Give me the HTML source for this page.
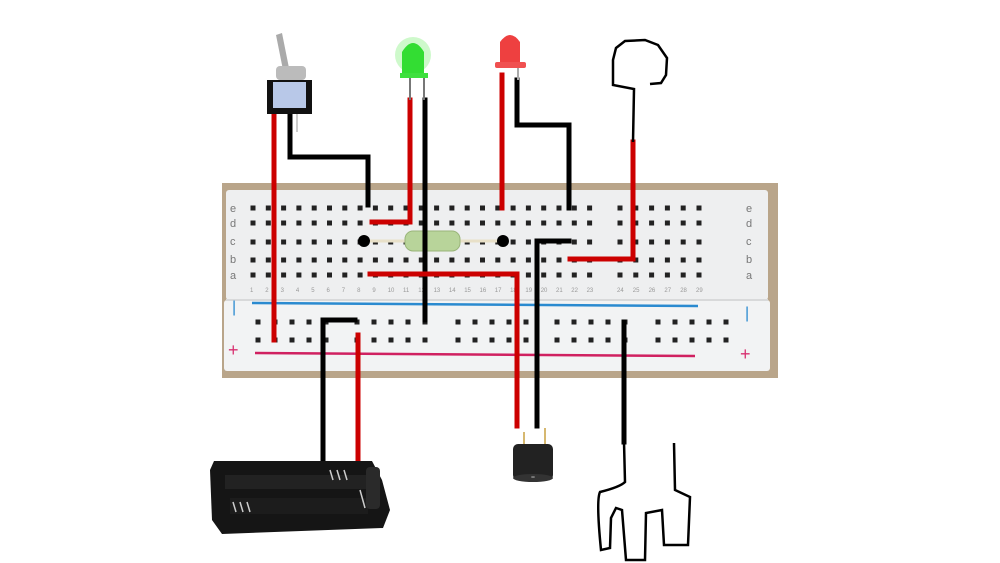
<!DOCTYPE html>
<html><head><meta charset="utf-8"><style>
html,body{margin:0;padding:0;background:#fff;width:1000px;height:563px;overflow:hidden}
svg{display:block}
text{font-family:"Liberation Sans",sans-serif}
</style></head><body>
<svg width="1000" height="563" viewBox="0 0 1000 563" xmlns="http://www.w3.org/2000/svg">
<!-- breadboard background (wood) -->
<rect x="222" y="183" width="556" height="195" fill="#b9a58a"/>
<rect x="226" y="190" width="542" height="110" rx="3" fill="#eeeff0"/>
<rect x="224" y="300" width="546" height="71" rx="3" fill="#f2f3f4"/>
<rect x="226" y="299" width="542" height="2" fill="#d8d9da"/>
<line x1="252" y1="303" x2="698" y2="306" stroke="#2a8ad0" stroke-width="2.5"/>
<line x1="255" y1="353" x2="695" y2="356" stroke="#d02060" stroke-width="2.5"/>
<text x="232" y="312" fill="#2a8ad0" font-size="16">|</text>
<text x="745" y="318" fill="#2a8ad0" font-size="16">|</text>
<text x="228" y="356" fill="#d83070" font-size="18">+</text>
<text x="740" y="360" fill="#d83070" font-size="18">+</text>
<g fill="#777" font-size="11">
<text x="230" y="212">e</text><text x="230" y="227">d</text><text x="230" y="245">c</text><text x="230" y="263">b</text><text x="230" y="279">a</text>
<text x="746" y="212">e</text><text x="746" y="227">d</text><text x="746" y="245">c</text><text x="746" y="263">b</text><text x="746" y="279">a</text>
</g>
<g id="holes" fill="#222"></g>
<g fill="#999" font-size="6" id="nums"></g>
<script>
(function(){
var g=document.getElementById('holes'),n=document.getElementById('nums'),ns='http://www.w3.org/2000/svg';
var rows=[208,223,242,260,275],xs=[];
for(var i=0;i<23;i++)xs.push(253+i*15.3);
for(var i=0;i<6;i++)xs.push(620+i*15.8);
rows.forEach(function(y){xs.forEach(function(x){var r=document.createElementNS(ns,'rect');r.setAttribute('x',x-2.5);r.setAttribute('y',y-2.5);r.setAttribute('width',5);r.setAttribute('height',5);g.appendChild(r);});});
xs.forEach(function(x,i){var t=document.createElementNS(ns,'text');t.setAttribute('x',x-3);t.setAttribute('y',292);t.textContent=i+1;n.appendChild(t);});
[258,357,458,557,658].forEach(function(s){for(var k=0;k<5;k++){[322,340].forEach(function(y){var r=document.createElementNS(ns,'rect');r.setAttribute('x',s+k*17-2.5);r.setAttribute('y',y-2.5);r.setAttribute('width',5);r.setAttribute('height',5);g.appendChild(r);});}});
})();
</script>
<!-- resistor -->
<line x1="364" y1="241" x2="503" y2="241" stroke="#e8e0c8" stroke-width="3"/>
<rect x="405" y="231" width="55" height="20" rx="8" fill="#b8d49a" stroke="#9ab57a"/>
<circle cx="364" cy="241" r="6" fill="#000"/>
<circle cx="503" cy="241" r="6" fill="#000"/>
<!-- wires -->
<g fill="none" stroke-width="5" stroke-linecap="square">
<polyline points="274,115 274,340" stroke="#c00"/>
<polyline points="290,115 290,157 368,157 368,205" stroke="#000"/>
<polyline points="410,100 410,222 372,222" stroke="#c00"/>
<polyline points="425,100 425,320" stroke="#000"/>
<polyline points="502,75 502,208" stroke="#c00"/>
<polyline points="517,80 517,125 569,125 569,208" stroke="#000"/>
<polyline points="633,142 633,259 570,259" stroke="#c00"/>
<polyline points="370,274 517,274 517,426" stroke="#c00"/>
<polyline points="537,426 537,241 569,241" stroke="#000"/>
<polyline points="323,466 323,320 355,320" stroke="#000"/>
<polyline points="358,335 358,472" stroke="#c00"/>
<polyline points="624,322 624,442" stroke="#000"/>
</g>
<!-- switch -->
<path d="M276,35 L282,33 L289,68 L283,70Z" fill="#aaa"/>
<rect x="276" y="66" width="30" height="14" rx="4" fill="#bbb"/>
<rect x="267" y="80" width="45" height="34" fill="#111"/>
<rect x="273" y="82" width="33" height="26" fill="#b8c8e8"/>
<line x1="297" y1="114" x2="297" y2="132" stroke="#ccc" stroke-width="2"/>
<!-- green LED -->
<circle cx="413" cy="55" r="18" fill="#aef5a8" opacity=".6"/>
<path d="M402,75 L402,52 Q413,34 424,52 L424,75Z" fill="#33dd33"/>
<rect x="400" y="73" width="28" height="5" fill="#3ee03e"/>
<line x1="410" y1="78" x2="410" y2="100" stroke="#777" stroke-width="2"/>
<line x1="424" y1="78" x2="424" y2="100" stroke="#777" stroke-width="2"/>
<!-- red LED -->
<path d="M500,64 L500,42 Q510,28 520,42 L520,64Z" fill="#ee4040"/>
<rect x="495" y="62" width="31" height="6" rx="2" fill="#f05050"/>
<line x1="518" y1="68" x2="518" y2="80" stroke="#aaa" stroke-width="2"/>
<!-- probe -->
<path d="M650,84 L661,83 L666,75 L667,58 L658,45 L645,40 L625,41 L616,48 L613,60 L613,85 L634,89 L633,142" fill="none" stroke="#000" stroke-width="2.5"/>
<!-- buzzer -->
<line x1="524" y1="432" x2="524" y2="446" stroke="#c8a040" stroke-width="1.5"/>
<line x1="545" y1="428" x2="545" y2="446" stroke="#c8a040" stroke-width="1.5"/>
<rect x="513" y="444" width="40" height="36" rx="5" fill="#222"/>
<ellipse cx="533" cy="478" rx="20" ry="4" fill="#333"/>
<ellipse cx="533" cy="477" rx="2" ry="1" fill="#777"/>
<!-- battery -->
<path d="M214,461 L372,461 L382,480 L390,510 L383,528 L222,534 L212,520 L210,470Z" fill="#151515"/>
<rect x="225" y="475" width="145" height="14" fill="#222"/>
<rect x="230" y="498" width="138" height="16" fill="#1c1c1c"/>
<g stroke="#ccc" stroke-width="1.5"><line x1="330" y1="470" x2="333" y2="480"/><line x1="337" y1="470" x2="340" y2="480"/><line x1="344" y1="470" x2="347" y2="480"/><line x1="233" y1="502" x2="236" y2="512"/><line x1="240" y1="502" x2="243" y2="512"/><line x1="247" y1="502" x2="250" y2="512"/><line x1="360" y1="490" x2="365" y2="508"/></g>
<rect x="366" y="467" width="14" height="42" rx="4" fill="#2a2a2a"/>
<!-- fork -->
<path d="M624,442 L625,482 Q620,487 600,492 Q596,500 601,550 L610,548 L611,518 L616,508 L622,510 L626,560 L645,560 L646,513 L662,510 L664,545 L688,545 L690,497 L675,490 L674,443" fill="none" stroke="#000" stroke-width="2.5"/>
</svg>
</body></html>
